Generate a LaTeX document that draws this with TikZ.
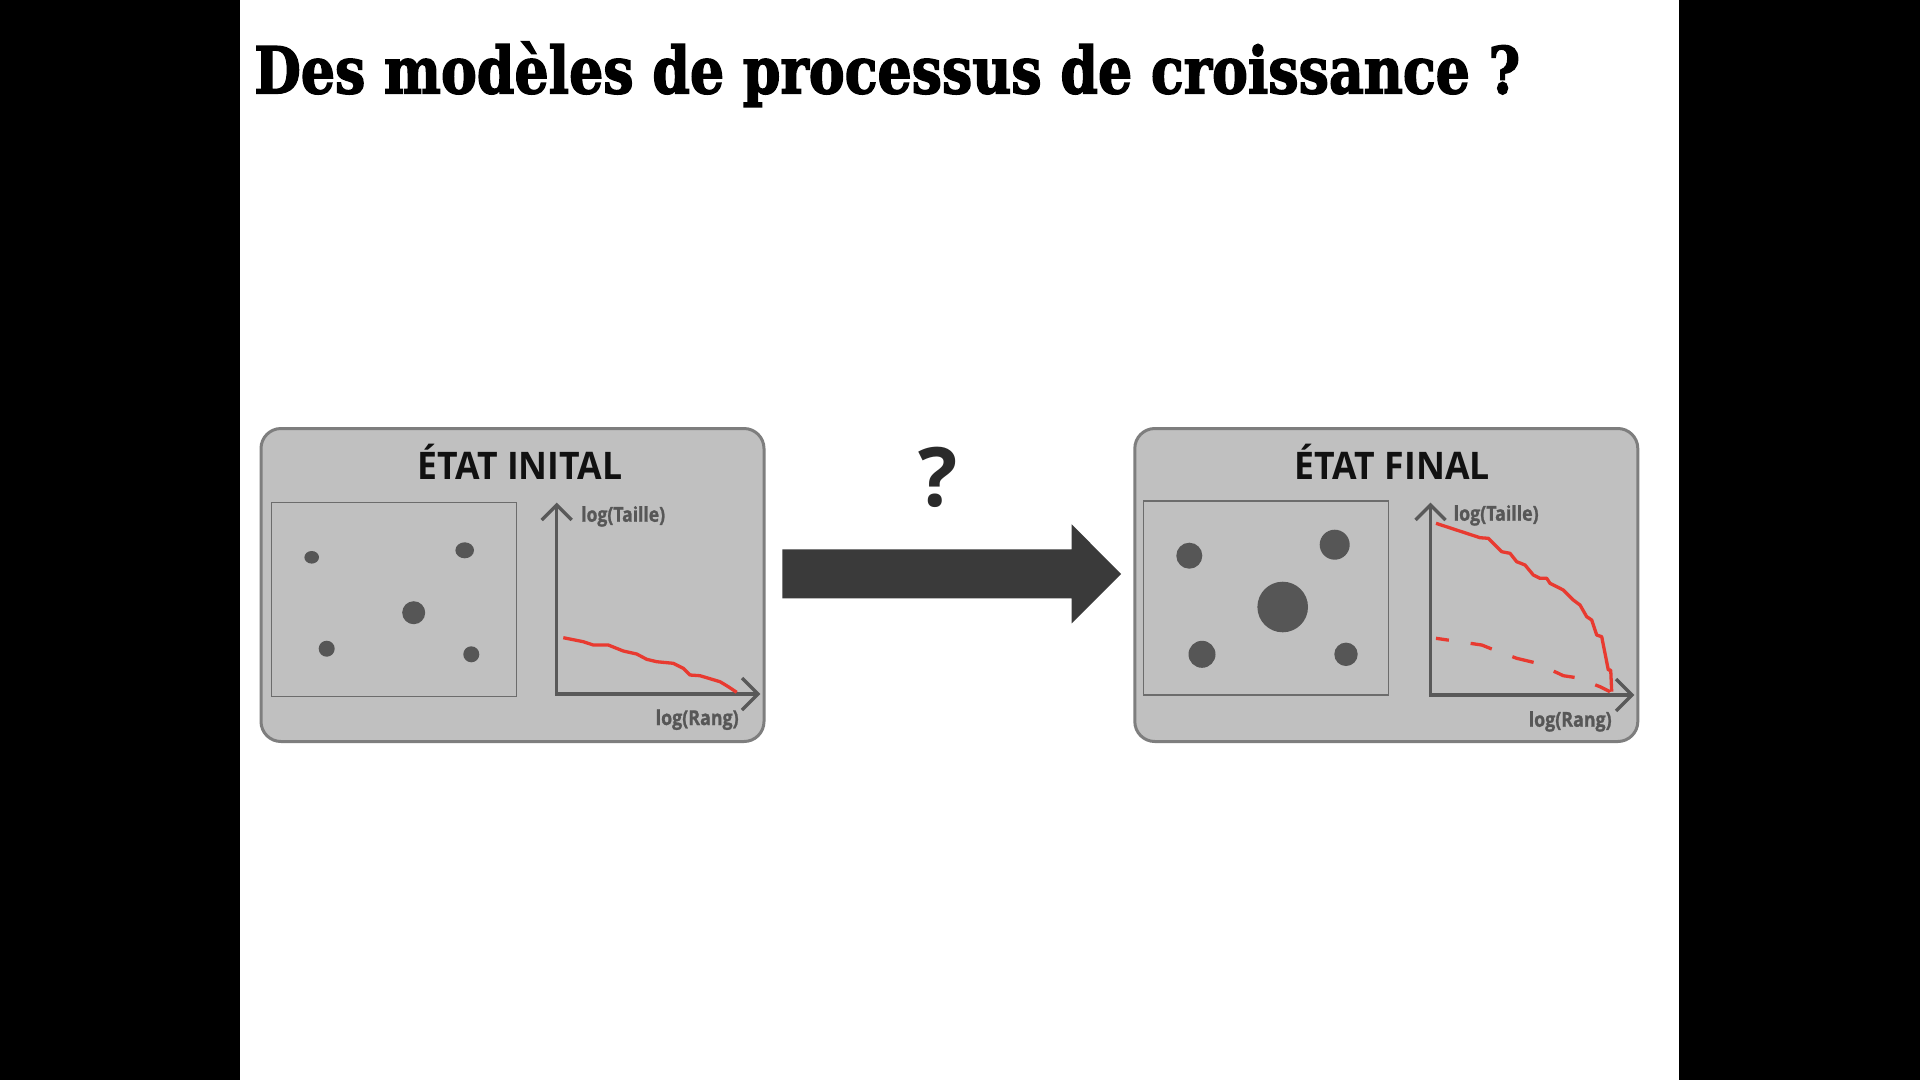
\documentclass[tikz,border=0pt]{standalone}
\usepackage{fontspec}
\usepackage{graphicx}
\newfontfamily\titlefont{DejaVu Serif}[BoldFeatures={FakeBold=2.5}]
\newfontfamily\osans{Open Sans}
\newfontfamily\osanslab{Open Sans}[BoldFeatures={FakeBold=1.2}]
\newfontfamily\osanssb{Open Sans}
\definecolor{panelfill}{HTML}{C0C0C0}
\definecolor{panelborder}{HTML}{7E7E7E}
\definecolor{mapborder}{HTML}{6C6C6C}
\definecolor{dotcol}{HTML}{565656}
\definecolor{axiscol}{HTML}{595959}
\definecolor{labcol}{HTML}{575757}
\definecolor{redcol}{HTML}{E83A30}
\definecolor{arrowcol}{HTML}{3A3A3A}
\definecolor{qcol}{HTML}{2A2A2A}
\definecolor{headcol}{HTML}{111111}
\begin{document}
\begin{tikzpicture}[x=1pt,y=-1pt,
  panel/.style={draw=panelborder, line width=3pt, fill=panelfill, rounded corners=20pt,
    minimum width=503pt, minimum height=313pt, inner sep=0pt},
  mapbox/.style={draw=mapborder, line width=1.5pt, minimum width=245pt, minimum height=194pt, inner sep=0pt},
  dot/.style={fill=dotcol},
  axis/.style={draw=axiscol, line width=3.3pt},
  curve/.style={draw=redcol, line width=3.3pt, line join=round},
  axlabel/.style={font=\osanslab\bfseries\fontsize{20.5}{20.5}\selectfont, text=labcol, inner sep=0pt, anchor=base west},
  paneltitle/.style={font=\osanssb\bfseries\fontsize{38}{38}\selectfont, text=headcol, inner sep=0pt, anchor=base west}
]
\useasboundingbox (0,0) rectangle (1920,1080);
\fill[black] (0,0) rectangle (1920,1080);
\fill[white] (240,0) rectangle (1679,1080);

% Title
\node[anchor=base west, inner sep=0pt, font=\titlefont\bfseries\fontsize{64.5}{64.5}\selectfont] (title) at (254,93.3)
  {\resizebox{1266pt}{\height}{Des modèles de processus de croissance ?}};

% Panels
\node[panel] (left) at (512.5,585) {};
\node[panel] (right) at (1386.3,585) {};

\node[paneltitle] (lt) at (417,479.3) {\resizebox{205pt}{\height}{ÉTAT INITAL}};
\node[paneltitle] (rt) at (1294.5,479.3) {\resizebox{195pt}{\height}{ÉTAT FINAL}};

% Maps
\node[mapbox] (lmap) at (394.2,599.5) {};
\node[mapbox] (rmap) at (1266,598) {};

% Left dots
\fill[dot] (311.7,557.3) ellipse [x radius=7.3, y radius=6.3];
\fill[dot] (464.7,550.3) ellipse [x radius=9.3, y radius=8];
\fill[dot] (413.7,612.7) circle [radius=11.5];
\fill[dot] (326.7,648.7) circle [radius=8];
\fill[dot] (471.3,654.3) circle [radius=8];

% Right dots
\fill[dot] (1189.3,555.7) circle [radius=13];
\fill[dot] (1334.7,544.7) circle [radius=15];
\fill[dot] (1282.7,607) circle [radius=25.3];
\fill[dot] (1202,654.3) circle [radius=13.5];
\fill[dot] (1346,654.3) circle [radius=11.7];

% Left chart axes
\coordinate (lo) at (556.7,694);
\coordinate (ly) at (556.7,505);
\coordinate (lx) at (758,694);
\draw[axis] (ly) -- (lo) -- (lx);
\draw[axis] ([shift={(-15,15)}]ly) -- (ly) -- ([shift={(15,15)}]ly);
\draw[axis] ([shift={(-16,-16)}]lx) -- (lx) -- ([shift={(-16,16)}]lx);
\node[axlabel] (lly) at (581,521.7) {\resizebox{84pt}{\height}{log(Taille)}};
\node[axlabel] (llx) at (655.5,725) {\resizebox{83pt}{\height}{log(Rang)}};

% Right chart axes
\coordinate (ro) at (1430.5,695);
\coordinate (ry) at (1430.5,505);
\coordinate (rx) at (1632,695);
\draw[axis] (ry) -- (ro) -- (rx);
\draw[axis] ([shift={(-15,15)}]ry) -- (ry) -- ([shift={(15,15)}]ry);
\draw[axis] ([shift={(-16,-16)}]rx) -- (rx) -- ([shift={(-16,16)}]rx);
\node[axlabel] (rly) at (1453.5,520.7) {\resizebox{85pt}{\height}{log(Taille)}};
\node[axlabel] (rlx) at (1528.5,726.7) {\resizebox{83pt}{\height}{log(Rang)}};

% Left red curve
\draw[curve] plot coordinates {(563.3,637.7) (583.3,641.7) (593.3,645) (608.3,645) (623.3,651) (636.7,654) (646.7,659.3) (656.7,661.7) (673.3,663.3) (683.3,668.3) (690,675) (700,675.7) (706.7,677.7) (720,681.7) (728.3,686.7) (736.7,692.3)};

% Right red curve
\draw[curve] plot coordinates {(1436,523.3) (1480,537.7) (1488.3,538.3) (1501.7,551.7) (1510,553.3) (1516.7,561.7) (1525,565) (1533.3,575) (1540,578.3) (1546.7,578.3) (1550,583.3) (1563.3,590) (1573.3,600) (1580,605) (1586.7,616.7) (1591.7,620) (1596.7,635) (1601.7,636.7) (1608.3,670) (1610.7,670) (1611.7,691.7)};

% Right dashed curve
\draw[curve, dash pattern=on 22pt off 22pt, dash phase=9pt] plot coordinates {(1436,638.3) (1481.7,645) (1490,648.3) (1516.7,658.3) (1535,662.7) (1558.3,673.3) (1563.3,675.7) (1576.7,677.7) (1600,686.7) (1610,691.7)};

% Big arrow
\fill[arrowcol] (782.3,549.3) -- (1071.7,549.3) -- (1071.7,524.3) -- (1121,574) -- (1071.7,623.3) -- (1071.7,598.3) -- (782.3,598.3) -- cycle;
\node[font=\osans\bfseries\fontsize{82}{82}\selectfont, text=qcol, anchor=base, inner sep=0pt] (q) at (938.3,506) {?};
\end{tikzpicture}
\end{document}
